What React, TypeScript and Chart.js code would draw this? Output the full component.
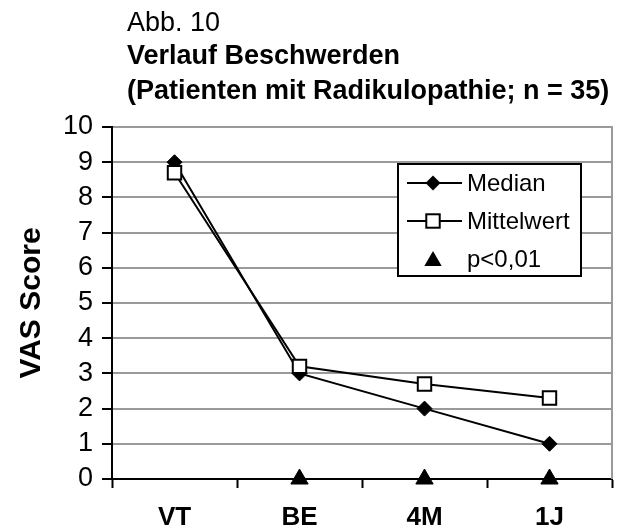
import React, { useEffect, useRef } from 'react';
import { Chart, registerables } from 'chart.js';

Chart.register(...registerables);

const categories = ['VT', 'BE', '4M', '1J'];
const medianValues = [9, 3, 2, 1];
const meanValues = [8.7, 3.2, 2.7, 2.3];
const significanceValues = [null, 0, 0, 0];
const titleLines = ['Abb. 10', 'Verlauf Beschwerden', '(Patienten mit Radikulopathie; n = 35)'];
const legendLabels = ['Median', 'Mittelwert', 'p<0,01'];
const yAxisTitle = 'VAS Score';
const yMin = 0;
const yMax = 10;
const yStep = 1;

const FONT = "'Liberation Sans', Arial, Helvetica, sans-serif";
const GRID = '#9a9a9a';

function diamond(ctx: CanvasRenderingContext2D, x: number, y: number, r: number) {
  ctx.beginPath();
  ctx.moveTo(x - r, y);
  ctx.lineTo(x, y - r);
  ctx.lineTo(x + r, y);
  ctx.lineTo(x, y + r);
  ctx.closePath();
  ctx.fillStyle = '#000';
  ctx.fill();
}
function square(ctx: CanvasRenderingContext2D, x: number, y: number, r: number) {
  const s = Math.SQRT1_2 * r;
  ctx.fillStyle = '#fff';
  ctx.fillRect(x - s, y - s, 2 * s, 2 * s);
  ctx.strokeStyle = '#000';
  ctx.lineWidth = 2;
  ctx.strokeRect(x - s, y - s, 2 * s, 2 * s);
}
function triangle(ctx: CanvasRenderingContext2D, x: number, y: number, r: number) {
  ctx.beginPath();
  ctx.moveTo(x, y - r);
  ctx.lineTo(x + 0.866 * r, y + 0.5 * r);
  ctx.lineTo(x - 0.866 * r, y + 0.5 * r);
  ctx.closePath();
  ctx.fillStyle = '#000';
  ctx.fill();
}

const framePlugin = {
  id: 'frameRight',
  beforeDatasetsDraw(chart: any) {
    const { ctx, chartArea } = chart;
    ctx.save();
    ctx.strokeStyle = GRID;
    ctx.lineWidth = 2;
    ctx.beginPath();
    ctx.moveTo(chartArea.right, chartArea.top - 1);
    ctx.lineTo(chartArea.right, chartArea.bottom);
    ctx.stroke();
    ctx.restore();
  },
};

const legendPlugin = {
  id: 'boxLegend',
  afterDraw(chart: any) {
    const ctx: CanvasRenderingContext2D = chart.ctx;
    ctx.save();
    const bx = 398, by = 164, bw = 183, bh = 112;
    ctx.fillStyle = '#fff';
    ctx.fillRect(bx, by, bw, bh);
    ctx.strokeStyle = '#000';
    ctx.lineWidth = 2;
    ctx.strokeRect(bx, by, bw, bh);
    const rows = [183, 221, 259];
    const mx = 433;
    ctx.font = `24px ${FONT}`;
    ctx.textBaseline = 'middle';
    ctx.textAlign = 'left';
    legendLabels.forEach((label, i) => {
      const y = rows[i];
      if (i < 2) {
        ctx.strokeStyle = '#000';
        ctx.lineWidth = 2;
        ctx.beginPath();
        ctx.moveTo(407, y);
        ctx.lineTo(462, y);
        ctx.stroke();
      }
      if (i === 0) diamond(ctx, mx, y, 7.5);
      if (i === 1) square(ctx, mx, y, 9.5);
      if (i === 2) triangle(ctx, mx, y + 2, 10);
      ctx.fillStyle = '#000';
      ctx.fillText(label, 467, y + 1);
    });
    ctx.restore();
  },
};

export default function App() {
  const ref = useRef<HTMLCanvasElement | null>(null);
  useEffect(() => {
    if (!ref.current) return;
    const chart = new Chart(ref.current, {
      type: 'line',
      data: {
        labels: categories,
        datasets: [
          {
            label: legendLabels[1],
            data: meanValues,
            order: 0,
            borderColor: '#000',
            borderWidth: 2,
            pointStyle: 'rect',
            pointRadius: 9.5,
            pointBackgroundColor: '#fff',
            pointBorderColor: '#000',
            pointBorderWidth: 2,
            tension: 0,
            clip: false,
          },
          {
            label: legendLabels[0],
            data: medianValues,
            order: 1,
            borderColor: '#000',
            borderWidth: 2,
            pointStyle: 'rectRot',
            pointRadius: 7.5,
            pointBackgroundColor: '#000',
            pointBorderColor: '#000',
            pointBorderWidth: 1,
            tension: 0,
            clip: false,
          },
          {
            label: legendLabels[2],
            data: significanceValues,
            order: 2,
            showLine: false,
            pointStyle: 'triangle',
            pointRadius: 10,
            pointBackgroundColor: '#000',
            pointBorderColor: '#000',
            pointBorderWidth: 1,
            clip: false,
          },
        ] as any,
      },
      options: {
        responsive: false,
        animation: false,
        layout: { padding: { top: 127, right: 16, left: 0, bottom: 0 } },
        plugins: {
          legend: { display: false },
          tooltip: { enabled: false },
          title: { display: false },
        },
        scales: {
          x: {
            type: 'category',
            offset: true,
            afterFit: (s: any) => { s.height = 52; },
            grid: {
              offset: true,
              drawOnChartArea: false,
              drawTicks: true,
              tickLength: 9,
              tickColor: '#000',
              tickWidth: 2,
            },
            border: { color: '#000', width: 2 },
            ticks: {
              color: '#000',
              font: { family: FONT, size: 26, weight: 'bold' },
              padding: 14,
              maxRotation: 0,
              autoSkip: false,
            },
          },
          y: {
            min: yMin,
            max: yMax,
            afterFit: (s: any) => { s.width = 112; },
            grid: {
              color: GRID,
              lineWidth: 2,
              tickColor: '#000',
              tickWidth: 2,
              tickLength: 10,
            },
            border: { color: '#000', width: 2 },
            ticks: {
              stepSize: yStep,
              autoSkip: false,
              color: '#000',
              font: { family: FONT, size: 27 },
              padding: 9,
            },
            title: {
              display: true,
              text: yAxisTitle,
              color: '#000',
              font: { family: FONT, size: 30, weight: 'bold' },
              padding: { top: 14, bottom: 0 },
            },
          },
        },
      } as any,
      plugins: [framePlugin, legendPlugin],
    });
    return () => chart.destroy();
  }, []);

  const titleStyle = (top: number, bold: boolean): React.CSSProperties => ({
    position: 'absolute',
    left: 127,
    top,
    margin: 0,
    fontFamily: FONT,
    fontSize: 27,
    lineHeight: '27px',
    fontWeight: bold ? 'bold' : 'normal',
    color: '#000',
    whiteSpace: 'nowrap',
  });

  return (
    <div style={{ position: 'fixed', left: 0, top: 0, width: 628, height: 531, background: '#fff' }}>
      <canvas ref={ref} width={628} height={531} style={{ position: 'absolute', left: 0, top: 0, width: 628, height: 531 }} />
      <div style={titleStyle(9, false)}>{titleLines[0]}</div>
      <div style={titleStyle(42, true)}>{titleLines[1]}</div>
      <div style={titleStyle(77, true)}>{titleLines[2]}</div>
    </div>
  );
}
